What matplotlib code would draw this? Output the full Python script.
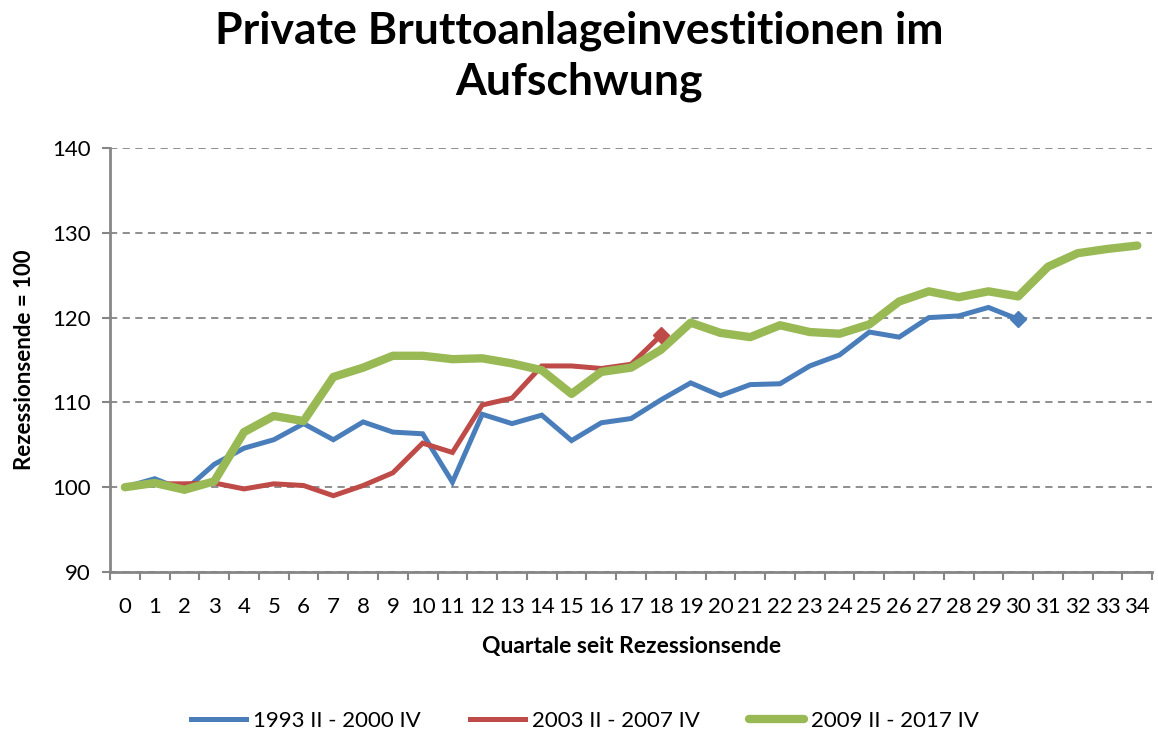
import matplotlib.pyplot as plt
import numpy as np

plt.rcParams['font.family'] = ['Lato', 'DejaVu Sans']

quarters = np.arange(0, 35)

series_1993 = [100.0, 101.0, 99.6, 102.7, 104.6, 105.6, 107.5, 105.6, 107.7, 106.5,
               106.3, 100.6, 108.6, 107.5, 108.5, 105.5, 107.6, 108.1, 110.3, 112.3,
               110.8, 112.1, 112.2, 114.3, 115.6, 118.3, 117.7, 120.0, 120.2, 121.2,
               119.8]
series_2003 = [100.0, 100.4, 100.4, 100.5, 99.8, 100.4, 100.2, 99.0, 100.2, 101.7,
               105.2, 104.1, 109.7, 110.5, 114.3, 114.3, 114.0, 114.5, 117.9]
series_2009 = [100.0, 100.5, 99.7, 100.7, 106.5, 108.4, 107.8, 113.0, 114.1, 115.5,
               115.5, 115.1, 115.2, 114.6, 113.8, 111.0, 113.6, 114.1, 116.2, 119.4,
               118.2, 117.7, 119.1, 118.3, 118.1, 119.2, 121.9, 123.1, 122.4, 123.1,
               122.5, 126.0, 127.6, 128.1, 128.5]

labels = ["1993 II - 2000 IV", "2003 II - 2007 IV", "2009 II - 2017 IV"]
colors = ["#4a7ebb", "#be4b48", "#98b954"]

fig = plt.figure(figsize=(11.58, 7.31), dpi=100)
ax = fig.add_axes([0.095, 0.2175, 0.9, 0.58])

ax.plot(quarters[:len(series_1993)], series_1993, color=colors[0], lw=3.6,
        label=labels[0], solid_joinstyle='miter')
ax.plot(quarters[:len(series_2003)], series_2003, color=colors[1], lw=3.6,
        label=labels[1], solid_joinstyle='miter')
ax.plot(quarters[:len(series_2009)], series_2009, color=colors[2], lw=6,
        label=labels[2], solid_capstyle='round')
# end markers
ax.plot(len(series_1993) - 1, series_1993[-1], 'D', color=colors[0], ms=8)
ax.plot(len(series_2003) - 1, series_2003[-1], 'D', color=colors[1], ms=8)

ax.set_xlim(-0.5, 34.5)
ax.set_ylim(90, 140)
ax.set_yticks(np.arange(90, 141, 10))
ax.set_xticks(quarters)
ax.set_xticks(np.arange(-0.5, 35, 1), minor=True)
ax.tick_params(axis='x', which='major', length=0, labelsize=16, pad=18)
ax.tick_params(axis='x', which='minor', length=6, width=1.5, color='#868686', direction='out')
ax.tick_params(axis='y', length=6, width=1.5, color='#868686', labelsize=16, pad=8)

ax.grid(axis='y', color='#868686', ls=(0, (4, 3)), lw=1.3)
for s in ['top', 'right']:
    ax.spines[s].set_visible(False)
for s in ['left', 'bottom']:
    ax.spines[s].set_color('#868686')
    ax.spines[s].set_linewidth(2)

ax.set_xlabel("Quartale seit Rezessionsende", fontsize=16.5, fontweight='bold', labelpad=14)
ax.set_ylabel("Rezessionsende = 100", fontsize=16, fontweight='bold', labelpad=12)

fig.suptitle("Private Bruttoanlageinvestitionen im\nAufschwung", fontsize=32,
             fontweight='bold', x=0.5, y=0.985, linespacing=1.3)

fig.legend(loc='lower center', ncol=3, frameon=False, fontsize=16,
           bbox_to_anchor=(0.505, -0.027), handlelength=2.5, handletextpad=0.3,
           columnspacing=2.2)

fig.savefig("out.png", dpi=100)
